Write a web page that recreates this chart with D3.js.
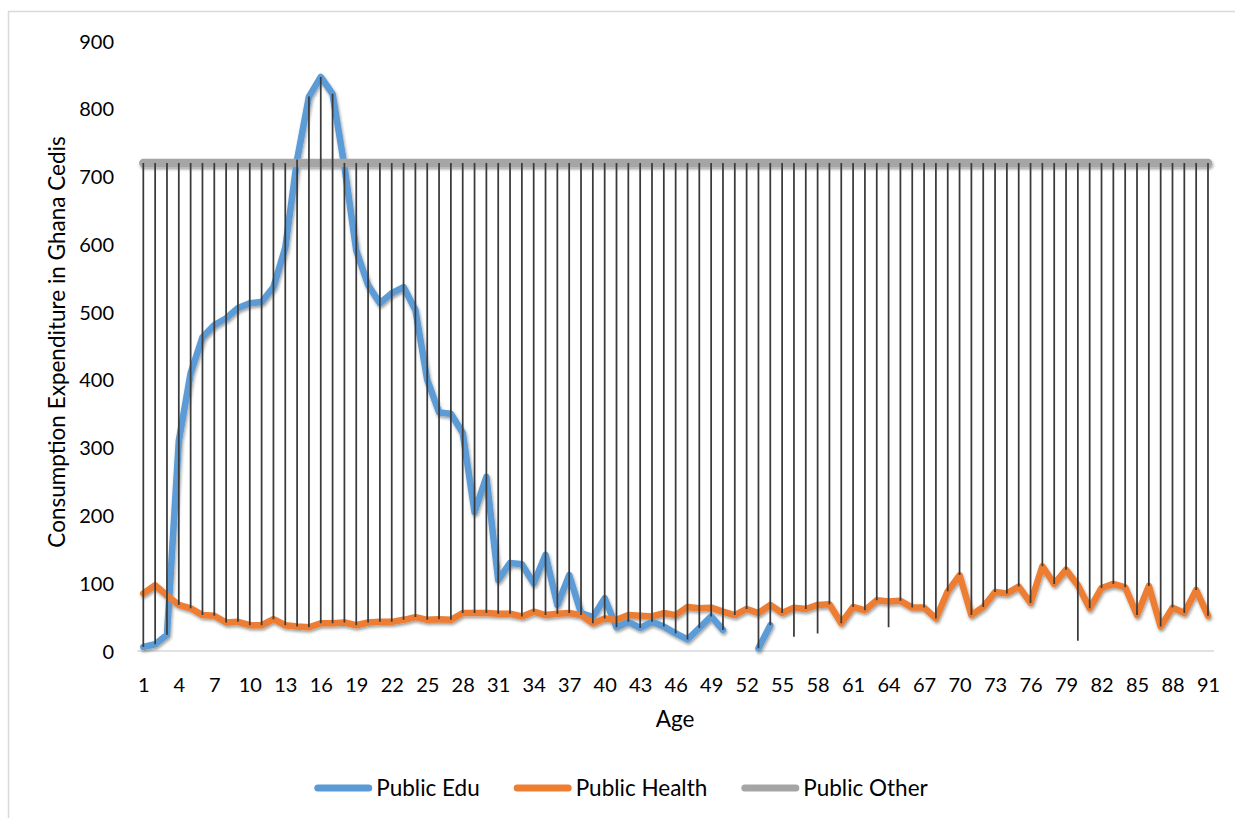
<!DOCTYPE html>
<html>
<head>
<meta charset="utf-8">
<script src="https://cdn.jsdelivr.net/npm/d3@7"></script>
<style>
  html, body { margin: 0; padding: 0; background: #fff; }
  svg { display: block; font-family: Lato, "Open Sans", sans-serif; }
</style>
</head>
<body>
<svg id="chart" width="1235" height="818"></svg>
<script>
// Ages 1..91
const ages = d3.range(1, 92);

// Public education consumption per age (null where no value)
const publicEdu = [
  6, 10, 24, 310, 410, 463, 481, 491, 506, 513,
  515, 537, 595, 725, 818, 847, 822, 715, 591, 540,
  513, 528, 537, 503, 400, 352, 350, 322, 205, 257,
  105, 130, 128, 100, 142, 68, 112, 56, 50, 78,
  35, 43, 34, 43, 36, 26, 17, 34, 51, 31,
  null, null, 4, 38, null, 21, null, 26, null, null,
  null, null, null, 35, null, null, null, null, null, null,
  null, null, null, null, null, null, null, null, null, 15,
  null, null, null, null, null, null, null, null, null, null,
  null
];

// Public health consumption per age
const publicHealth = [
  85, 97, 82, 68, 63, 53, 52, 42, 43, 38,
  38, 47, 38, 36, 35, 41, 41, 42, 38, 42,
  43, 43, 46, 50, 46, 47, 46, 56, 56, 56,
  55, 55, 51, 58, 53, 55, 56, 53, 41, 48,
  46, 53, 52, 51, 56, 53, 65, 63, 64, 58,
  53, 62, 56, 68, 56, 64, 62, 68, 69, 41,
  65, 60, 75, 73, 74, 64, 64, 48, 88, 112,
  53, 65, 87, 85, 95, 71, 125, 99, 120, 97,
  63, 93, 99, 94, 53, 96, 36, 64, 56, 90,
  52
];

// Public "other" consumption is flat across ages
const publicOther = ages.map(() => 720);

const yTicks = [0, 100, 200, 300, 400, 500, 600, 700, 800, 900];
const xTickAges = ages.filter(a => (a - 1) % 3 === 0);

const seriesNames = ["Public Edu", "Public Health", "Public Other"];
const seriesColors = ["#5B9BD5", "#ED7D31", "#A5A5A5"];
const seriesWidths = [6.5, 6.5, 8.5];
const seriesValues = [publicEdu, publicHealth, publicOther];

const svg = d3.select("#chart");

// outer frame (cropped on the right and bottom)
svg.append("path")
  .attr("d", "M8.5,818 V11.5 H1235")
  .attr("fill", "none")
  .attr("stroke", "#d9d9d9")
  .attr("stroke-width", 1.5);

const plot = { left: 137.4, right: 1213.9, top: 41, bottom: 651 };

const x = d3.scalePoint()
  .domain(ages)
  .range([plot.left, plot.right])
  .padding(0.5);

const y = d3.scaleLinear()
  .domain([0, 900])
  .range([plot.bottom, plot.top]);

// soft shadow under the series lines
const defs = svg.append("defs");
const f = defs.append("filter").attr("id", "shadow")
  .attr("x", "-5%").attr("y", "-10%").attr("width", "110%").attr("height", "130%");
f.append("feDropShadow")
  .attr("dx", 1).attr("dy", 2).attr("stdDeviation", 1.8)
  .attr("flood-color", "#000").attr("flood-opacity", 0.38);

// y axis labels (no axis line)
const yAxis = d3.axisLeft(y).tickValues(yTicks).tickSize(0).tickPadding(0);
svg.append("g")
  .attr("transform", `translate(114,0)`)
  .call(yAxis)
  .call(g => g.select(".domain").remove())
  .call(g => g.selectAll("text")
    .attr("font-family", "Lato, sans-serif")
    .attr("font-size", 20).attr("fill", "#000").attr("dy", "0.35em"));

// x axis
const xAxis = d3.axisBottom(x).tickValues(xTickAges).tickSize(0).tickPadding(0);
svg.append("g")
  .attr("transform", `translate(0,${plot.bottom})`)
  .call(xAxis)
  .call(g => g.select(".domain").remove())
  .call(g => g.selectAll("text")
    .attr("font-family", "Lato, sans-serif")
    .attr("font-size", 20).attr("fill", "#000").attr("dy", 41));

svg.append("line")
  .attr("x1", plot.left).attr("x2", plot.right)
  .attr("y1", plot.bottom).attr("y2", plot.bottom)
  .attr("stroke", "#d9d9d9").attr("stroke-width", 1.5);

// series lines
const lineGen = vals => d3.line()
  .defined((d, i) => vals[i] != null && (vals[i - 1] != null || vals[i + 1] != null))
  .x((d, i) => x(ages[i]))
  .y((d, i) => y(vals[i]));

const linesG = svg.append("g").attr("filter", "url(#shadow)");
seriesValues.forEach((vals, k) => {
  linesG.append("path")
    .datum(vals)
    .attr("d", lineGen(vals))
    .attr("fill", "none")
    .attr("stroke", seriesColors[k])
    .attr("stroke-width", seriesWidths[k])
    .attr("stroke-linejoin", "round")
    .attr("stroke-linecap", "round");
});

// high-low lines joining the highest and lowest series value at each age
const hiLo = ages.map((a, i) => {
  const v = seriesValues.map(s => s[i]).filter(d => d != null);
  return { age: a, hi: d3.max(v), lo: d3.min(v) };
});
svg.append("g")
  .selectAll("line")
  .data(hiLo)
  .join("line")
  .attr("x1", d => x(d.age)).attr("x2", d => x(d.age))
  .attr("y1", d => y(d.hi)).attr("y2", d => y(d.lo))
  .attr("stroke", "#3a3a3a")
  .attr("stroke-width", 1.75);

// axis titles
svg.append("text")
  .attr("transform", "translate(65,342) rotate(-90)")
  .attr("text-anchor", "middle")
  .attr("font-size", 22.5).attr("fill", "#000")
  .text("Consumption Expenditure in Ghana Cedis");

svg.append("text")
  .attr("x", 675).attr("y", 727)
  .attr("text-anchor", "middle")
  .attr("font-size", 22.5).attr("fill", "#000")
  .text("Age");

// legend
const legend = svg.append("g");
const swatchLen = 58, gapText = 4, gapItem = 34;
let cx = 0;
seriesNames.forEach((name, k) => {
  const item = legend.append("g").attr("transform", `translate(${cx},0)`);
  item.append("line")
    .attr("x1", 3.5).attr("x2", swatchLen - 3.5).attr("y1", 0).attr("y2", 0)
    .attr("stroke", seriesColors[k]).attr("stroke-width", 7)
    .attr("stroke-linecap", "round");
  const t = item.append("text")
    .attr("x", swatchLen + gapText).attr("y", 8)
    .attr("font-size", 22.5).attr("fill", "#000")
    .text(name);
  cx += swatchLen + gapText + t.node().getComputedTextLength() + gapItem;
});
const legendW = cx - gapItem;
legend.attr("transform", `translate(${621 - legendW / 2},788)`);
</script>
</body>
</html>
